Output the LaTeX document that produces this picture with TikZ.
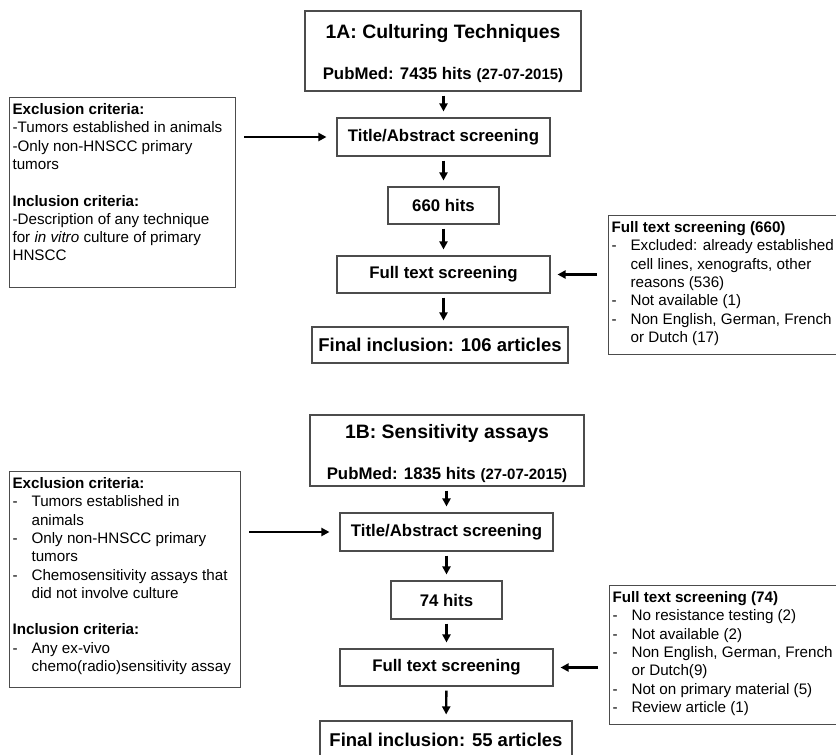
\documentclass[tikz,border=0pt]{standalone}
\usepackage{fontspec}
\setmainfont{Liberation Sans}
\usetikzlibrary{arrows.meta}

\newcommand{\critdash}{\makebox[19pt][l]{-}}
\newcommand{\critindent}{\hspace*{19pt}}

\tikzset{
  flowbox/.style={draw=black!70, line width=1.1pt, inner sep=0pt, align=center,
    font=\bfseries\fontsize{16.8}{20}\selectfont},
  notebox/.style={draw=black!70, line width=1.1pt, inner xsep=3pt, inner ysep=6pt,
    anchor=north west, font=\fontsize{15.2}{18.3}\selectfont},
  flowarrow/.style={line width=2.4pt, -{Triangle[length=8pt,width=8pt]},
    shorten <=4pt, shorten >=6pt},
  sidearrow/.style={shorten <=8pt, shorten >=10pt},
  exclarrow/.style={shorten <=11pt, shorten >=7pt},
}

\begin{document}
\begin{tikzpicture}[x=1pt,y=-1pt]
\clip (0,0) rectangle (836,755);
\fill[white] (0,0) rectangle (836,755);

% 1A: Culturing techniques
\node[flowbox, minimum width=276pt, minimum height=80pt] (headA) at (443,51)
  {\rule{0pt}{20pt}{\fontsize{19.4}{23}\selectfont 1A: Culturing Techniques}\\[21pt]
   PubMed: 7435 hits {\fontsize{15}{18}\selectfont(27-07-2015)}};
\node[flowbox, minimum width=213pt, minimum height=38pt] (titleA) at (443.5,137) {Title/Abstract screening};
\node[flowbox, minimum width=111pt, minimum height=37pt] (hitsA) at (443.5,205.5) {660 hits};
\node[flowbox, minimum width=213pt, minimum height=37pt] (fullA) at (443.5,274.5) {Full text screening};
\node[flowbox, minimum width=256pt, minimum height=36pt,
  font=\bfseries\fontsize{18.5}{22}\selectfont] (finalA) at (440,345) {Final inclusion: 106 articles};

\node[notebox] (critA) at (9,97) {\parbox[t][178pt][t]{220pt}{\raggedright
  \textbf{Exclusion criteria:}\\
  -Tumors established in animals\\
  -Only non-HNSCC primary\\
  tumors\\[18.3pt]
  \textbf{Inclusion criteria:}\\
  -Description of any technique\\
  for \textit{in vitro} culture of primary\\
  HNSCC}};

\node[notebox] (exclA) at (608,215) {\parbox[t][127pt][t]{240pt}{\raggedright
  \textbf{Full text screening (660)}\\
  \critdash Excluded: already established\\
  \critindent cell lines, xenografts, other\\
  \critindent reasons (536)\\
  \critdash Not available (1)\\
  \critdash Non English, German, French\\
  \critindent or Dutch (17)}};

% 1A arrows
\draw[flowarrow] (headA.south -| titleA) -- (titleA.north);
\draw[flowarrow] (titleA) -- (hitsA);
\draw[flowarrow] (hitsA) -- (fullA);
\draw[flowarrow] (fullA.south) -- (fullA.south |- finalA.north);
\draw[flowarrow, sidearrow] (titleA.west -| critA.east) -- (titleA.west);
\draw[flowarrow, exclarrow] (fullA.east -| exclA.west) -- (fullA.east);

% 1B: Sensitivity assays
\node[flowbox, minimum width=274pt, minimum height=71pt] (headB) at (447,450.5)
  {\rule{0pt}{20pt}{\fontsize{19.4}{23}\selectfont 1B: Sensitivity assays}\\[21pt]
   PubMed: 1835 hits {\fontsize{15}{18}\selectfont(27-07-2015)}};
\node[flowbox, minimum width=213pt, minimum height=38pt] (titleB) at (446.5,532) {Title/Abstract screening};
\node[flowbox, minimum width=111pt, minimum height=38pt] (hitsB) at (446.5,600) {74 hits};
\node[flowbox, minimum width=213pt, minimum height=37pt] (fullB) at (446.5,667.5) {Full text screening};
\node[flowbox, minimum width=252pt, minimum height=37pt,
  font=\bfseries\fontsize{18.5}{22}\selectfont] (finalB) at (446,739.5) {Final inclusion: 55 articles};

\node[notebox] (critB) at (9,471) {\parbox[t][204pt][t]{225pt}{\raggedright
  \textbf{Exclusion criteria:}\\
  \critdash Tumors established in\\
  \critindent animals\\
  \critdash Only non-HNSCC primary\\
  \critindent tumors\\
  \critdash Chemosensitivity assays that\\
  \critindent did not involve culture\\[18.3pt]
  \textbf{Inclusion criteria:}\\
  \critdash Any ex-vivo\\
  \critindent chemo(radio)sensitivity assay}};

\node[notebox] (exclB) at (609,585) {\parbox[t][127pt][t]{240pt}{\raggedright
  \textbf{Full text screening (74)}\\
  \critdash No resistance testing (2)\\
  \critdash Not available (2)\\
  \critdash Non English, German, French\\
  \critindent or Dutch(9)\\
  \critdash Not on primary material (5)\\
  \critdash Review article (1)}};

% 1B arrows
\draw[flowarrow] (headB.south -| titleB) -- (titleB.north);
\draw[flowarrow] (titleB) -- (hitsB);
\draw[flowarrow] (hitsB) -- (fullB);
\draw[flowarrow] (fullB) -- (finalB);
\draw[flowarrow, sidearrow] (titleB.west -| critB.east) -- (titleB.west);
\draw[flowarrow, exclarrow] (fullB.east -| exclB.west) -- (fullB.east);

\end{tikzpicture}
\end{document}
